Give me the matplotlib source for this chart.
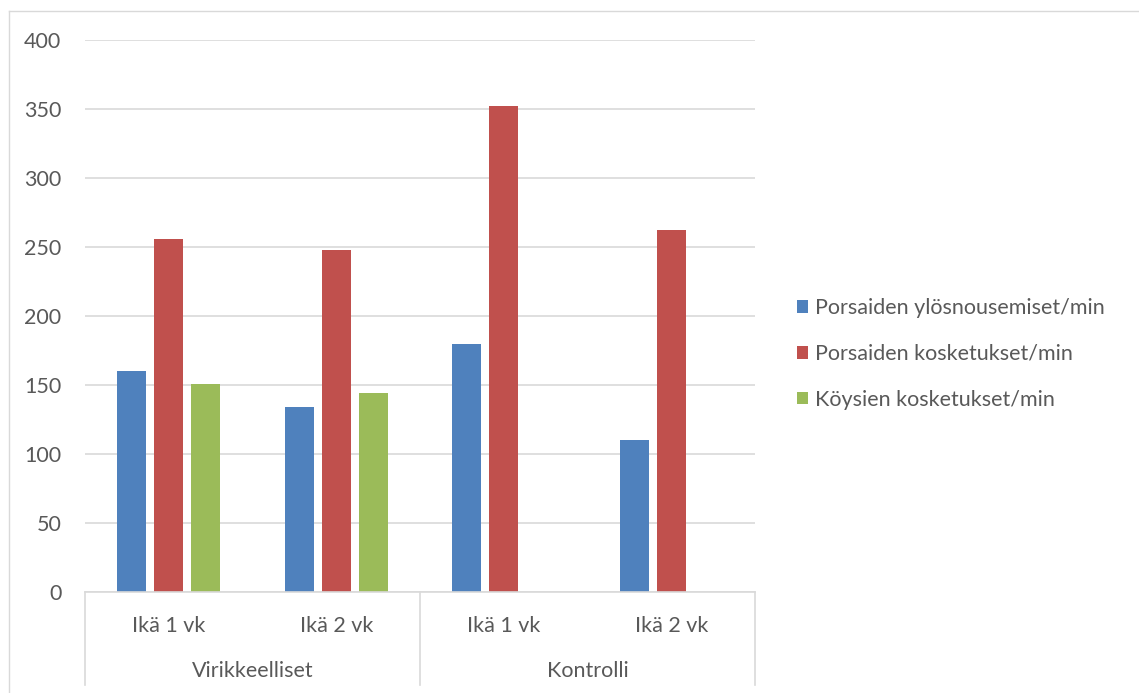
import matplotlib
matplotlib.use("Agg")
import matplotlib.pyplot as plt
import matplotlib.transforms as mtransforms
from matplotlib.lines import Line2D
from matplotlib.patches import Patch
import numpy as np

plt.rcParams['font.family'] = ['Lato', 'DejaVu Sans']

groups = ["Virikkeelliset", "Kontrolli"]
subcats = ["Ikä 1 vk", "Ikä 2 vk", "Ikä 1 vk", "Ikä 2 vk"]
series_names = ["Porsaiden ylösnousemiset/min", "Porsaiden kosketukset/min", "Köysien kosketukset/min"]
ylosnousemiset = [160, 134, 180, 110]
kosketukset = [256, 248, 352, 262]
koysien = [151, 144, 0, 0]
yticks = [0, 50, 100, 150, 200, 250, 300, 350, 400]

colors = ["#4F81BD", "#C0504D", "#9BBB59"]
text_color = "#595959"
grid_color = "#D9D9D9"
FS = 15.5

W, H = 1139, 693
fig = plt.figure(figsize=(W / 100, H / 100), dpi=100)
ax = fig.add_axes([85 / W, (H - 592) / H, (755 - 85) / W, (592 - 40) / H])

x = np.arange(len(subcats))
step = 0.221
bw = 0.175
all_series = [ylosnousemiset, kosketukset, koysien]
for i, (vals, c) in enumerate(zip(all_series, colors)):
    ax.bar(x + (i - 1) * step, vals, width=bw, color=c, zorder=3)

ax.set_xlim(-0.5, len(subcats) - 0.5)
ax.set_ylim(0, 400)
ax.set_yticks(yticks)
ax.set_yticklabels([str(t) for t in yticks])
ax.tick_params(axis='y', length=0, pad=17, labelsize=FS, labelcolor=text_color)
ax.set_xticks([])
ax.grid(axis='y', color=grid_color, linewidth=1.2, zorder=0)
for s in ["top", "right", "left"]:
    ax.spines[s].set_visible(False)
ax.spines["bottom"].set_color(grid_color)
ax.spines["bottom"].set_linewidth(1.2)
ax.spines["bottom"].set_zorder(4)

trans = mtransforms.blended_transform_factory(ax.transData, ax.transAxes)
ybot = -93 / 552
for xs in [-0.5, 1.5, 3.5]:
    ax.plot([xs, xs], [0, ybot], transform=trans, color=grid_color, lw=1.2, clip_on=False)
for xi, lab in zip(x, subcats):
    ax.text(xi, -34 / 552, lab, transform=trans, ha='center', va='center',
            fontsize=FS, color=text_color)
for gi, g in enumerate(groups):
    ax.text(gi * 2 + 0.5, -79 / 552, g, transform=trans, ha='center', va='center',
            fontsize=FS, color=text_color)

handles = [Patch(facecolor=c, edgecolor='none') for c in colors]
fig.legend(handles, series_names, loc='center left',
           bbox_to_anchor=(797 / W, 1 - 354 / H), frameon=False,
           fontsize=FS, labelcolor=text_color, handlelength=0.52, handleheight=0.52,
           handletextpad=0.33, labelspacing=1.2, borderpad=0, borderaxespad=0)

fig.add_artist(Line2D([8.5 / W, 1.0], [1 - 10.5 / H, 1 - 10.5 / H],
                      transform=fig.transFigure, color=grid_color, lw=1.0))
fig.add_artist(Line2D([8.5 / W, 8.5 / W], [0, 1 - 10.5 / H],
                      transform=fig.transFigure, color=grid_color, lw=1.0))

fig.savefig("out.png", dpi=100, facecolor="white")
